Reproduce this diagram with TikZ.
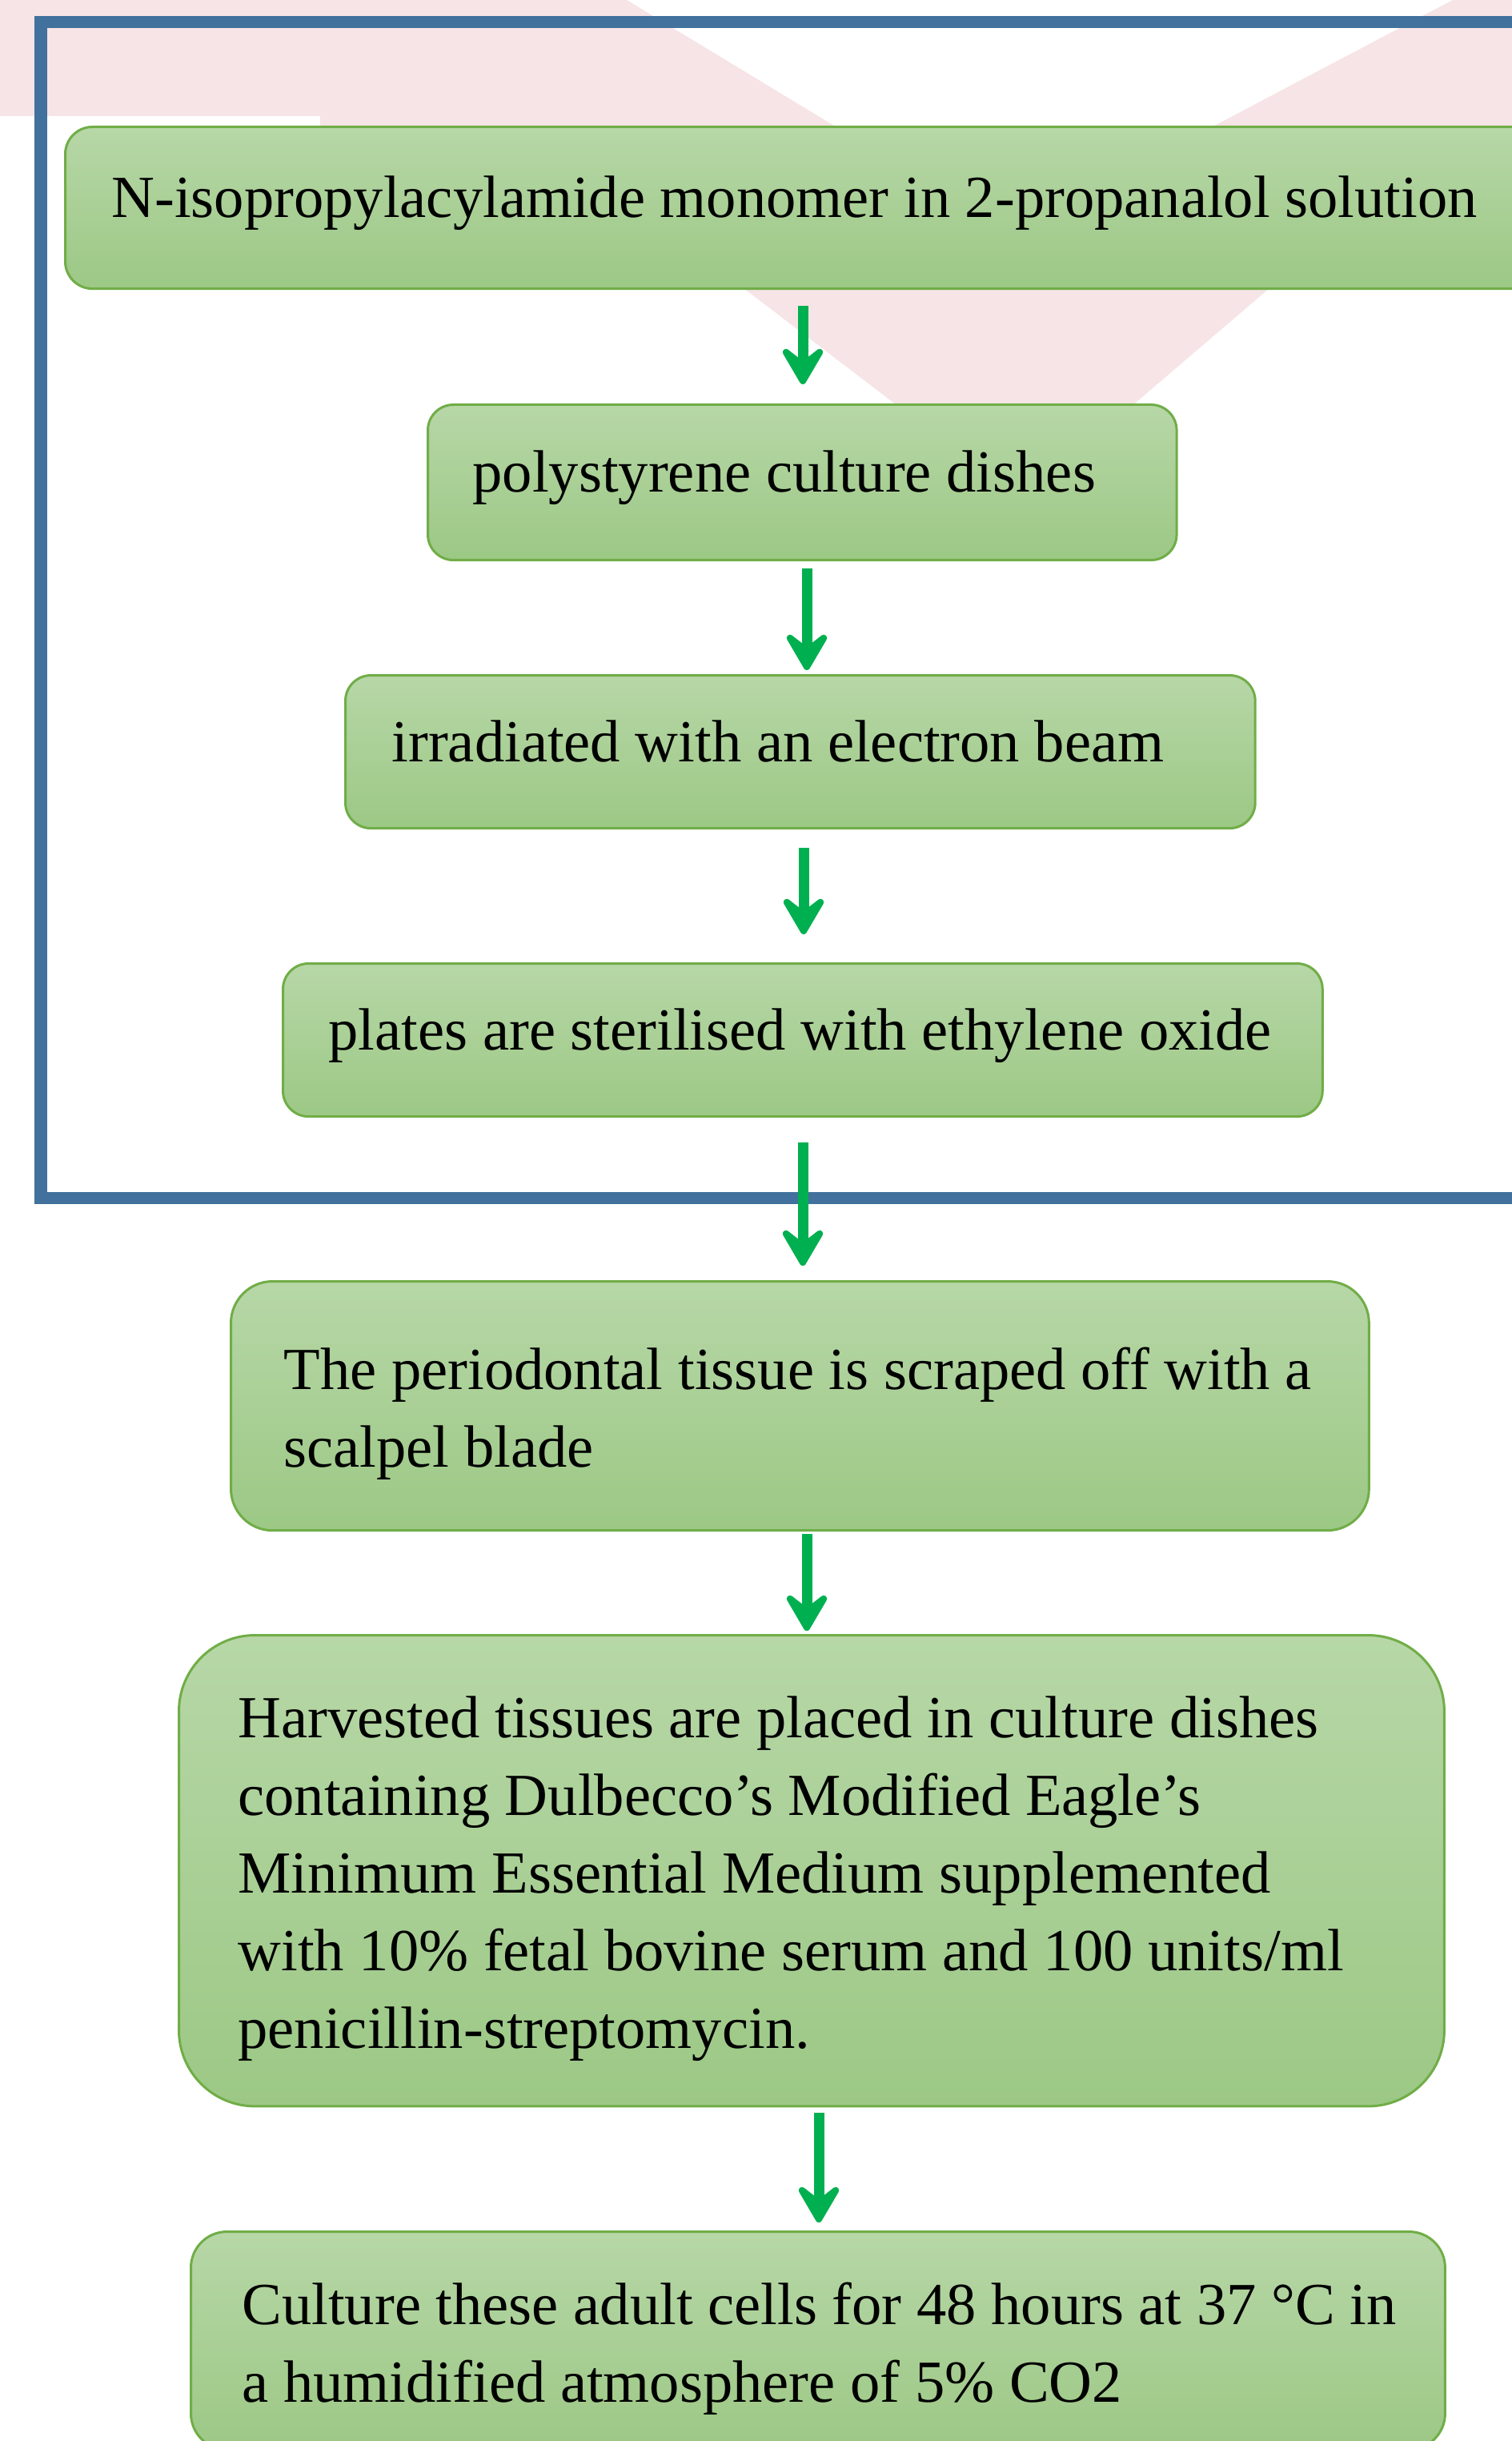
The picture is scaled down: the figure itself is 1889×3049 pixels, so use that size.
\documentclass[tikz,border=0pt]{standalone}
\usepackage{fontspec}
\setmainfont{Liberation Serif}
\usetikzlibrary{arrows.meta,positioning}
\definecolor{flowGreen}{RGB}{112,173,71}
\definecolor{flowTop}{RGB}{183,215,167}
\definecolor{flowBot}{RGB}{156,200,133}
\definecolor{flowArrow}{RGB}{0,176,80}
\definecolor{flowFrame}{RGB}{65,113,156}
\definecolor{flowMark}{RGB}{246,228,230}

\begin{document}
\begin{tikzpicture}[
  x=0.01cm, y=-0.01cm,
  font=\fontsize{21.2pt}{27.6pt}\selectfont,
  stepbox/.style={
    draw=flowGreen, line width=0.03cm, top color=flowTop, bottom color=flowBot,
    rounded corners=#1, anchor=north west, align=flush left, inner ysep=0pt
  },
  oneline/.style={
    execute at begin node=\rule{0pt}{0.605cm},
    execute at end node=\rule[-0.365cm]{0pt}{0pt}
  },
  multiline/.style={
    execute at begin node=\rule{0pt}{0.765cm},
    execute at end node=\rule[-0.205cm]{0pt}{0pt}
  },
  flowarr/.style={
    -{Stealth[length=0.6cm, width=0.7cm, inset=0.27cm, round]},
    line width=0.13cm, draw=flowArrow
  }
]
\useasboundingbox (0,0) rectangle (1889,3049);
\clip (0,0) rectangle (1889,3049);

% faint watermark behind the chart
\fill[flowMark] (0,0) -- (783,0) -- (1263,291) -- (1815,0) -- (1889,0)
  -- (1889,300) -- (1586,360) -- (1276,625) -- (929,360) -- (400,157)
  -- (400,145) -- (0,145) -- cycle;

% blue frame round the preparation steps
\draw[flowFrame, line width=0.15cm] (1960,28) -- (51,28) -- (51,1496) -- (1960,1496);

% preparation of the dishes
\node[stepbox=0.34cm, oneline, minimum width=18.5cm, minimum height=2.02cm,
      text width=17.34cm, inner xsep=0.58cm] (n1) at (80,157)
  {N-isopropylacylamide monomer in 2-propanalol solution};
\node[stepbox=0.32cm, oneline, minimum width=9.35cm, minimum height=1.94cm,
      text width=8.23cm, inner xsep=0.56cm] (n2) at (533,504)
  {polystyrene culture dishes};
\node[stepbox=0.32cm, oneline, minimum width=11.36cm, minimum height=1.91cm,
      text width=10.2cm, inner xsep=0.58cm] (n3) at (430,842)
  {irradiated with an electron beam};
\node[stepbox=0.32cm, oneline, minimum width=12.98cm, minimum height=1.91cm,
      text width=11.84cm, inner xsep=0.57cm] (n4) at (352,1202)
  {plates are sterilised with ethylene oxide};

% cell culture
\node[stepbox=0.52cm, multiline, minimum width=14.21cm, minimum height=3.11cm,
      text width=12.89cm, inner xsep=0.66cm] (n5) at (287,1599)
  {The periodontal tissue is scraped off with a\\scalpel blade};
\node[stepbox=0.95cm, multiline, minimum width=15.8cm, minimum height=5.88cm,
      text width=14.32cm, inner xsep=0.74cm] (n6) at (222,2041)
  {Harvested tissues are placed in culture dishes\\
   containing Dulbecco's Modified Eagle's\\
   Minimum Essential Medium supplemented\\
   with 10\% fetal bovine serum and 100 units/ml\\
   penicillin-streptomycin.};
\node[stepbox=0.45cm, multiline, minimum width=15.66cm, minimum height=2.72cm,
      text width=14.38cm, inner xsep=0.64cm] (n7) at (237,2786)
  {\mbox{Culture these adult cells for 48 hours at 37 °C in}\\
   a humidified atmosphere of 5\% CO2};

% arrows: from/to/x/start gap/end gap
\foreach \a/\b/\x/\s/\e in {n1/n2/1003/0.20/0.24, n2/n3/1008/0.09/0.05,
    n3/n4/1004/0.23/0.35, n4/n5/1003/0.31/0.18,
    n5/n6/1008/0.03/0.04, n6/n7/1023/0.07/0.10}
  \draw[flowarr, shorten <=\s cm, shorten >=\e cm]
    (\a.south -| \x,0) -- (\b.north -| \x,0);

\end{tikzpicture}
\end{document}
